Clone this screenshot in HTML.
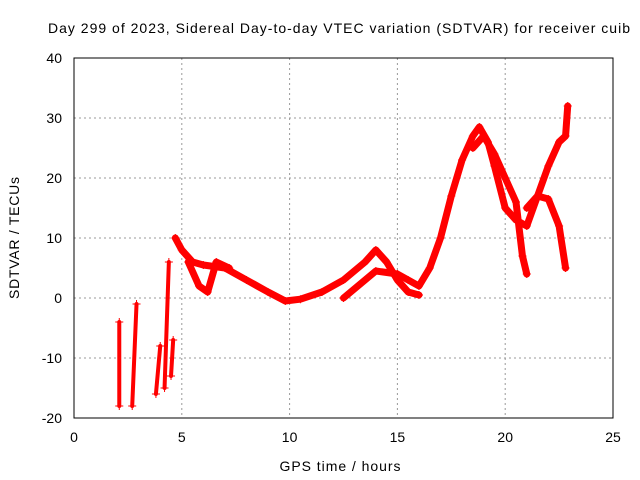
<!DOCTYPE html>
<html><head><meta charset="utf-8">
<style>
body{margin:0;background:#fff;}
svg{display:block;font-family:"Liberation Sans",sans-serif;}
</style></head>
<body>
<svg id="chart" width="640" height="480">
<text x="339" y="33" font-size="14" text-anchor="middle" textLength="582" lengthAdjust="spacing">Day 299 of 2023, Sidereal Day-to-day VTEC variation (SDTVAR) for receiver cuib</text>
<text x="340" y="471" font-size="14" text-anchor="middle" textLength="121">GPS time / hours</text>
<text transform="translate(19,238) rotate(-90)" font-size="14" text-anchor="middle" textLength="122">SDTVAR / TECUs</text>
<g id="grid"></g><g id="marks"></g>
<rect x="74" y="58" width="539" height="360" fill="none" stroke="#000" stroke-width="1"/>
</svg>
<script>
const xTicks=[0,5,10,15,20,25];
const yTicks=[-20,-10,0,10,20,30,40];
const traceT=[
 [2.1,2.1],[2.7,2.9],[3.8,4.0],[4.2,4.4],[4.5,4.6],
 [4.7,5,5.5,6,7,8,9,9.8,10.5,11.5,12.5,13.5,14,14.5,15,15.5,16],
 [5.3,5.8,6.2,6.6,7.2],
 [12.5,13.5,14,15,15.5,16,16.5,17,17.5,18,18.5,18.8,19.2,19.5,20,20.5,21,21.5,22,22.5,22.8],
 [18.5,19,19.5,20,20.5,20.8,21],
 [21,21.5,22,22.5,22.8,22.9]
];
const traceV=[
 [-4,-18],[-18,-1],[-16,-8],[-15,6],[-13,-7],
 [10,8,6,5.5,5,3,1,-0.5,-0.2,1,3,6,8,6,3,1,0.5],
 [6,2,1,6,5],
 [0,3,4.5,4,3,2,5,10,17,23,27,28.5,26,22,15,13,12,17,16.5,12,5],
 [25,27,24,20,16,7,4],
 [15,17,22,26,27,32]
];
const X=t=>74+t*539/25, Y=v=>298-v*6;
const ns="http://www.w3.org/2000/svg";
const grid=document.getElementById('grid'), marks=document.getElementById('marks');
xTicks.forEach(t=>{
 const l=document.createElementNS(ns,'line');
 
 
 l.setAttribute('x1',X(t));l.setAttribute('x2',X(t));l.setAttribute('y1',58);l.setAttribute('y2',418);
 l.setAttribute('stroke',(t==0||t==25)?'none':'#999');l.setAttribute('stroke-dasharray','2,3');
 grid.appendChild(l);
 const tx=document.createElementNS(ns,'text');
 
 
 tx.setAttribute('x',X(t));tx.setAttribute('y',442);tx.setAttribute('font-size','14');tx.setAttribute('text-anchor','middle');
 tx.textContent=t;grid.appendChild(tx);
});
yTicks.forEach(v=>{
 const l=document.createElementNS(ns,'line');
 
 
 l.setAttribute('x1',74);l.setAttribute('x2',613);l.setAttribute('y1',Y(v));l.setAttribute('y2',Y(v));
 l.setAttribute('stroke',(v==-20||v==40)?'none':'#999');l.setAttribute('stroke-dasharray','2,3');
 grid.appendChild(l);
 const tx=document.createElementNS(ns,'text');
 
 
 tx.setAttribute('x',62);tx.setAttribute('y',Y(v)+5);tx.setAttribute('font-size','14');tx.setAttribute('text-anchor','end');
 tx.textContent=v;grid.appendChild(tx);
});
traceT.forEach((ts,i)=>{
 const pts=ts.map((t,j)=>X(t)+','+Y(traceV[i][j])).join(' ');
 const p=document.createElementNS(ns,'polyline');
 
 
 p.setAttribute('points',pts);p.setAttribute('fill','none');p.setAttribute('stroke','#f00');
 p.setAttribute('stroke-width',i<5?4:7);p.setAttribute('stroke-linejoin','round');p.setAttribute('stroke-linecap','round');
 marks.appendChild(p);
 ts.forEach((t,j)=>{
  const x=X(t),y=Y(traceV[i][j]);
  const m=document.createElementNS(ns,'path');
  
  
  m.setAttribute('d',`M${x-4},${y}H${x+4}M${x},${y-4}V${y+4}`);
  m.setAttribute('stroke','#f00');m.setAttribute('stroke-width','1');
  marks.appendChild(m);
 });
});
</script>
</body></html>
